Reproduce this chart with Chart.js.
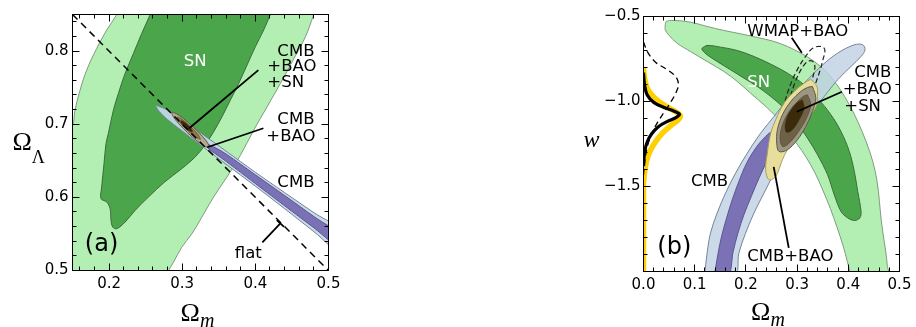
<!DOCTYPE html>
<html>
<head>
<meta charset="utf-8">
<script src="https://cdn.jsdelivr.net/npm/chart.js@4.4.1/dist/chart.umd.min.js"></script>
<style>
  html, body { margin: 0; padding: 0; background: #fff; }
  #wrap { position: relative; width: 916px; height: 327px; overflow: hidden; background: #fff; }
  canvas { position: absolute; top: 0; }
  #panelA { left: 0; }
  #panelB { left: 570px; }
</style>
</head>
<body>
<div id="wrap">
  <canvas id="panelA" width="340" height="327"></canvas>
  <canvas id="panelB" width="346" height="327"></canvas>
</div>
<script>
// ---------- Panel (a): Omega_m vs Omega_Lambda ----------
const ticksXA = [0.2, 0.3, 0.4, 0.5];
const ticksYA = [0.5, 0.6, 0.7, 0.8];

// SN 95% region
const snOuterA = [
  {x:0.2145,y:0.86},{x:0.2105,y:0.85},{x:0.1968,y:0.8288},{x:0.1831,y:0.8037},{x:0.1694,y:0.774},
  {x:0.1603,y:0.7466},{x:0.1534,y:0.7192},{x:0.15,y:0.6986},{x:0.14,y:0.692},{x:0.14,y:0.49},
  {x:0.2775,y:0.49},{x:0.2813,y:0.5},{x:0.2881,y:0.5114},{x:0.2995,y:0.532},{x:0.3132,y:0.5502},
  {x:0.3269,y:0.5731},{x:0.3429,y:0.6005},{x:0.3612,y:0.6279},{x:0.3795,y:0.6575},{x:0.3977,y:0.6918},
  {x:0.416,y:0.7237},{x:0.4342,y:0.7557},{x:0.4516,y:0.7877},{x:0.4685,y:0.8196},{x:0.4799,y:0.85},
  {x:0.484,y:0.86},{x:0.2145,y:0.86}
];
// SN 68% region
const snInnerA = [
  {x:0.2600,y:0.86},{x:0.2562,y:0.85},{x:0.2447,y:0.8242},{x:0.2333,y:0.7968},{x:0.2219,y:0.7694},
  {x:0.2127,y:0.742},{x:0.2059,y:0.7192},{x:0.199,y:0.6872},{x:0.1958,y:0.6735},{x:0.1931,y:0.6461},
  {x:0.1899,y:0.6142},{x:0.189,y:0.5982},{x:0.1968,y:0.5936},{x:0.2014,y:0.5845},{x:0.2027,y:0.5685},
  {x:0.205,y:0.5594},{x:0.2105,y:0.5571},{x:0.2219,y:0.5662},{x:0.2356,y:0.5822},{x:0.2539,y:0.6005},
  {x:0.2760,y:0.621},{x:0.2995,y:0.6393},{x:0.3178,y:0.6553},{x:0.3310,y:0.6712},{x:0.3429,y:0.6895},
  {x:0.3543,y:0.71},{x:0.3658,y:0.7329},{x:0.3772,y:0.7557},{x:0.3886,y:0.7808},{x:0.4,y:0.8059},
  {x:0.4114,y:0.8288},{x:0.4205,y:0.85},{x:0.4245,y:0.86},{x:0.2600,y:0.86}
];
// CMB 95% region
const cmbOuterA = [
  {x:0.263,y:0.7262},{x:0.28,y:0.7193},{x:0.30,y:0.7057},{x:0.33,y:0.6847},{x:0.36,y:0.6632},
  {x:0.40,y:0.6343},{x:0.44,y:0.6065},{x:0.48,y:0.5791},{x:0.52,y:0.5517},{x:0.52,y:0.5217},
  {x:0.48,y:0.5531},{x:0.44,y:0.5845},{x:0.40,y:0.6153},{x:0.36,y:0.6452},{x:0.33,y:0.6677},
  {x:0.30,y:0.6907},{x:0.28,y:0.7063},{x:0.268,y:0.7180},{x:0.263,y:0.7262}
];
// CMB 68% region
const cmbInnerA = [
  {x:0.334,y:0.6728},{x:0.345,y:0.668},{x:0.36,y:0.6592},{x:0.40,y:0.6308},{x:0.44,y:0.6025},
  {x:0.48,y:0.5738},{x:0.52,y:0.5452},{x:0.52,y:0.5282},{x:0.48,y:0.5584},{x:0.44,y:0.5885},
  {x:0.40,y:0.6188},{x:0.36,y:0.6492},{x:0.345,y:0.66},{x:0.336,y:0.6665},{x:0.334,y:0.6728}
];
// CMB+BAO 95% and 68%, CMB+BAO+SN
const cmbBaoOuterA = [
  {x:0.337,y:0.668},{x:0.3355,y:0.6732},{x:0.3275,y:0.6835},{x:0.3153,y:0.696},{x:0.302,y:0.7075},
  {x:0.2913,y:0.7148},{x:0.286,y:0.716},{x:0.2875,y:0.7108},{x:0.2955,y:0.7005},{x:0.3077,y:0.688},
  {x:0.321,y:0.6765},{x:0.3317,y:0.6692},{x:0.337,y:0.668}
];
const cmbBaoInnerA = [
  {x:0.325,y:0.6794},{x:0.322,y:0.6857},{x:0.3114,y:0.697},{x:0.2994,y:0.707},{x:0.293,y:0.7096},
  {x:0.296,y:0.7034},{x:0.3066,y:0.692},{x:0.3186,y:0.682},{x:0.325,y:0.6794}
];
const allCoreA = [
  {x:0.314,y:0.6895},{x:0.3129,y:0.693},{x:0.3077,y:0.6988},{x:0.3016,y:0.7036},{x:0.298,y:0.7045},
  {x:0.2991,y:0.701},{x:0.3043,y:0.6952},{x:0.3105,y:0.6904},{x:0.314,y:0.6895}
];
// flat universe: Omega_Lambda = 1 - Omega_m
const flatLineA = [{x:0.15,y:0.85},{x:0.5,y:0.5}];

// ---------- Panel (b): Omega_m vs w ----------
const ticksXB = [0.0, 0.1, 0.2, 0.3, 0.4, 0.5];
const ticksYB = [-1.5, -1.0, -0.5];

const snOuterB = [
  {x:0.0425,y:-0.5488},{x:0.0445,y:-0.5292},{x:0.0589,y:-0.5233},{x:0.0916,y:-0.5331},{x:0.1242,y:-0.5586},
  {x:0.1569,y:-0.5821},{x:0.1896,y:-0.6018},{x:0.2223,y:-0.6233},{x:0.2549,y:-0.6469},{x:0.2811,y:-0.6763},
  {x:0.3072,y:-0.7155},{x:0.3334,y:-0.7645},{x:0.3595,y:-0.8331},{x:0.3824,y:-0.9214},{x:0.402,y:-1.0194},
  {x:0.4184,y:-1.1174},{x:0.4347,y:-1.2351},{x:0.4478,y:-1.3527},{x:0.4563,y:-1.4704},{x:0.4608,y:-1.588},
  {x:0.464,y:-1.69},{x:0.468,y:-1.78},{x:0.473,y:-1.88},{x:0.476,y:-1.96},{x:0.477,y:-2.03},
  {x:0.404,y:-2.03},{x:0.403,y:-2.0},{x:0.398,y:-1.94},{x:0.39,y:-1.85},{x:0.378,y:-1.74},
  {x:0.365,y:-1.63},{x:0.35,y:-1.52},{x:0.335,y:-1.42},{x:0.318,y:-1.33},{x:0.30,y:-1.25},
  {x:0.281,y:-1.1763},{x:0.2615,y:-1.0978},{x:0.2353,y:-1.0194},{x:0.209,y:-0.9508},{x:0.1831,y:-0.8821},
  {x:0.1569,y:-0.8233},{x:0.1242,y:-0.7645},{x:0.0916,y:-0.7057},{x:0.0654,y:-0.6567},{x:0.049,y:-0.6076},
  {x:0.0425,y:-0.5782},{x:0.0425,y:-0.5488}
];
const snInnerB = [
  {x:0.1144,y:-0.6861},{x:0.1242,y:-0.6704},{x:0.1504,y:-0.6802},{x:0.1831,y:-0.6998},{x:0.2157,y:-0.7351},
  {x:0.2484,y:-0.7802},{x:0.2811,y:-0.8331},{x:0.3138,y:-0.9018},{x:0.3399,y:-0.9802},{x:0.3661,y:-1.0782},
  {x:0.3857,y:-1.1763},{x:0.402,y:-1.2939},{x:0.4118,y:-1.4116},{x:0.4184,y:-1.5292},{x:0.4249,y:-1.6469},
  {x:0.4225,y:-1.685},{x:0.412,y:-1.70},{x:0.399,y:-1.685},{x:0.3857,y:-1.6469},{x:0.3726,y:-1.5488},
  {x:0.3595,y:-1.4312},{x:0.3399,y:-1.3135},{x:0.3203,y:-1.2155},{x:0.2974,y:-1.1174},{x:0.2746,y:-1.039},
  {x:0.2484,y:-0.9704},{x:0.2223,y:-0.9116},{x:0.1961,y:-0.8625},{x:0.17,y:-0.8135},{x:0.1438,y:-0.7645},
  {x:0.1242,y:-0.7253},{x:0.1144,y:-0.6959},{x:0.1144,y:-0.6861}
];
const cmbOuterB = [
  {x:0.119,y:-2.03},{x:0.1242,y:-1.892},{x:0.1308,y:-1.7743},{x:0.1438,y:-1.6566},{x:0.1602,y:-1.539},
  {x:0.1798,y:-1.4214},{x:0.2027,y:-1.3037},{x:0.2288,y:-1.1861},{x:0.2549,y:-1.088},{x:0.2811,y:-0.99},
  {x:0.3138,y:-0.892},{x:0.3465,y:-0.7939},{x:0.3791,y:-0.7155},{x:0.4118,y:-0.6665},{x:0.4282,y:-0.6665},
  {x:0.4327,y:-0.6959},{x:0.4249,y:-0.7351},{x:0.4053,y:-0.7939},{x:0.3791,y:-0.8723},{x:0.353,y:-0.9704},
  {x:0.3268,y:-1.0684},{x:0.3007,y:-1.1861},{x:0.2746,y:-1.3037},{x:0.2549,y:-1.4214},{x:0.2353,y:-1.539},
  {x:0.2157,y:-1.6566},{x:0.1994,y:-1.7743},{x:0.1863,y:-1.892},{x:0.178,y:-2.03},{x:0.119,y:-2.03}
];
const cmbInnerB = [
  {x:0.138,y:-2.03},{x:0.1452,y:-1.9018},{x:0.1517,y:-1.8037},{x:0.1622,y:-1.6861},{x:0.1733,y:-1.5782},
  {x:0.1863,y:-1.4704},{x:0.2014,y:-1.3625},{x:0.219,y:-1.2743},{x:0.2353,y:-1.2155},{x:0.2497,y:-1.1802},
  {x:0.2563,y:-1.1998},{x:0.2517,y:-1.2743},{x:0.2406,y:-1.3527},{x:0.2256,y:-1.4508},{x:0.2105,y:-1.5586},
  {x:0.1961,y:-1.6665},{x:0.1844,y:-1.7743},{x:0.1752,y:-1.8821},{x:0.165,y:-2.03},{x:0.138,y:-2.03}
];
const wmapBaoOuterB = [
  {x:0.268,y:-1.137},{x:0.2733,y:-1.039},{x:0.2811,y:-0.9508},{x:0.2909,y:-0.8723},{x:0.302,y:-0.8037},
  {x:0.3151,y:-0.741},{x:0.3282,y:-0.692},{x:0.3399,y:-0.6763},{x:0.3517,y:-0.6822},{x:0.3543,y:-0.7057},
  {x:0.3504,y:-0.7547},{x:0.3452,y:-0.8135},{x:0.3386,y:-0.8723},{x:0.3282,y:-0.9606},{x:0.3138,y:-1.0586},
  {x:0.2942,y:-1.1468},{x:0.2778,y:-1.1861},{x:0.268,y:-1.137}
];
const wmapBaoInnerB = [
  {x:0.2811,y:-1.0586},{x:0.2864,y:-0.9802},{x:0.2942,y:-0.9018},{x:0.304,y:-0.8331},{x:0.3138,y:-0.7841},
  {x:0.3236,y:-0.7606},{x:0.3321,y:-0.7684},{x:0.3347,y:-0.8037},{x:0.3301,y:-0.8625},{x:0.3236,y:-0.9312},
  {x:0.3138,y:-1.0096},{x:0.3007,y:-1.0782},{x:0.2811,y:-1.0586}
];
const cmbBaoB = [
  {x:0.3269,y:-0.8686},{x:0.3386,y:-0.9116},{x:0.3399,y:-0.9508},{x:0.3367,y:-1.0292},{x:0.3203,y:-1.1076},
  {x:0.3007,y:-1.2057},{x:0.281,y:-1.2841},{x:0.2713,y:-1.3429},{x:0.2582,y:-1.441},{x:0.2452,y:-1.4606},
  {x:0.2386,y:-1.4018},{x:0.2419,y:-1.3037},{x:0.2484,y:-1.1861},{x:0.2582,y:-1.1076},{x:0.2746,y:-1.0096},
  {x:0.2942,y:-0.941},{x:0.3138,y:-0.892},{x:0.3269,y:-0.8686}
];
const allOuterB = [
  {x:0.3301,y:-0.9116},{x:0.3366,y:-0.9802},{x:0.3301,y:-1.0586},{x:0.317,y:-1.1468},{x:0.3007,y:-1.2253},
  {x:0.281,y:-1.2841},{x:0.2648,y:-1.2939},{x:0.2602,y:-1.2449},{x:0.2615,y:-1.1665},{x:0.2713,y:-1.0782},
  {x:0.2876,y:-1.0},{x:0.3072,y:-0.941},{x:0.3203,y:-0.9174},{x:0.3301,y:-0.9116}
];
const allMidB = [
  {x:0.3203,y:-0.9606},{x:0.3268,y:-1.0194},{x:0.317,y:-1.1076},{x:0.3007,y:-1.1861},{x:0.281,y:-1.2547},
  {x:0.2713,y:-1.2645},{x:0.2667,y:-1.2155},{x:0.2713,y:-1.137},{x:0.2844,y:-1.0586},{x:0.3007,y:-1.0},
  {x:0.3138,y:-0.9666},{x:0.3203,y:-0.9606}
];
const allCoreB = [
  {x:0.3105,y:-0.99},{x:0.3138,y:-1.039},{x:0.304,y:-1.1076},{x:0.2909,y:-1.1665},{x:0.2798,y:-1.1821},
  {x:0.2765,y:-1.1468},{x:0.281,y:-1.088},{x:0.2909,y:-1.039},{x:0.3007,y:-1.0056},{x:0.3105,y:-0.99}
];
// marginal likelihoods of w (scaled onto the Omega_m axis)
const likeAllB = [
  {x:0,y:-0.80},{x:0.002,y:-0.86},{x:0.007,y:-0.92},{x:0.016,y:-0.96},{x:0.03,y:-1.0},{x:0.048,y:-1.035},
  {x:0.064,y:-1.062},{x:0.072,y:-1.085},{x:0.067,y:-1.11},{x:0.054,y:-1.14},{x:0.039,y:-1.18},{x:0.025,y:-1.23},
  {x:0.013,y:-1.29},{x:0.006,y:-1.35},{x:0.002,y:-1.42},{x:0,y:-1.5},{x:0,y:-2.0}
];
const likeBlackB = [
  {x:0,y:-0.83},{x:0.002,y:-0.9},{x:0.007,y:-0.96},{x:0.02,y:-1.005},{x:0.04,y:-1.035},{x:0.06,y:-1.057},
  {x:0.0705,y:-1.075},{x:0.064,y:-1.093},{x:0.046,y:-1.118},{x:0.029,y:-1.148},{x:0.016,y:-1.19},
  {x:0.007,y:-1.24},{x:0.002,y:-1.3},{x:0,y:-1.38}
];
const likeWmapB = [
  {x:0,y:-0.65},{x:0.008,y:-0.71},{x:0.024,y:-0.77},{x:0.045,y:-0.81},{x:0.062,y:-0.85},{x:0.068,y:-0.89},
  {x:0.066,y:-0.93},{x:0.055,y:-0.995},{x:0.042,y:-1.055},{x:0.028,y:-1.12},{x:0.016,y:-1.19},
  {x:0.008,y:-1.26},{x:0.003,y:-1.34},{x:0,y:-1.43}
];

// ---------- helpers ----------
const FONT = '"DejaVu Sans", "Bitstream Vera Sans", sans-serif';
const SERIF = '"Liberation Serif", "DejaVu Serif", serif';
const fmt = v => (v < 0 ? '\u2212' + Math.abs(v).toFixed(1) : v.toFixed(1));

function region(data, fill, border, order, width) {
  return { data, showLine: true, fill: 'shape', backgroundColor: fill, borderColor: border,
           borderWidth: width === undefined ? 1 : width, pointRadius: 0, tension: 0.35, order, clip: 0 };
}
function curve(data, color, width, order, dash) {
  return { data, showLine: true, fill: false, borderColor: color, borderWidth: width, pointRadius: 0,
           tension: 0.35, order, clip: 0, borderDash: dash || [], borderCapStyle: 'butt' };
}

// frame and inward tick marks on all four sides
const frameTicks = {
  id: 'frameTicks',
  afterDatasetsDraw(chart, args, o) {
    const { ctx, chartArea: a } = chart;
    const xs = chart.scales.x, ys = chart.scales.y;
    const near = (v, s) => Math.abs(v / s - Math.round(v / s)) < 1e-6;
    ctx.save();
    ctx.strokeStyle = '#000';
    ctx.lineWidth = 1;
    ctx.beginPath();
    const nx = Math.round((xs.max - xs.min) / o.xMinor);
    for (let i = 0; i <= nx + 1; i++) {
      const v = Math.ceil(xs.min / o.xMinor - 1e-6) * o.xMinor + i * o.xMinor;
      if (v > xs.max + 1e-9) break;
      const p = Math.round(xs.getPixelForValue(v) - 0.5) + 0.5;
      const len = near(v, o.xMajor) ? 7 : 4;
      ctx.moveTo(p, a.bottom); ctx.lineTo(p, a.bottom - len);
      ctx.moveTo(p, a.top); ctx.lineTo(p, a.top + len);
    }
    const ny = Math.round((ys.max - ys.min) / o.yMinor);
    for (let i = 0; i <= ny + 1; i++) {
      const v = Math.ceil(ys.min / o.yMinor - 1e-6) * o.yMinor + i * o.yMinor;
      if (v > ys.max + 1e-9) break;
      const p = Math.round(ys.getPixelForValue(v) - 0.5) + 0.5;
      const len = near(v, o.yMajor) ? 7 : 4;
      ctx.moveTo(a.left, p); ctx.lineTo(a.left + len, p);
      ctx.moveTo(a.right, p); ctx.lineTo(a.right - len, p);
    }
    ctx.stroke();
    ctx.strokeRect(a.left, a.top, a.right - a.left, a.bottom - a.top);
    ctx.restore();
  }
};

// text labels, pointer lines and axis titles
const notes = {
  id: 'notes',
  afterDatasetsDraw(chart, args, o) {
    const { ctx, chartArea: a } = chart;
    const xs = chart.scales.x, ys = chart.scales.y;
    const px = v => xs.getPixelForValue(v), py = v => ys.getPixelForValue(v);
    ctx.save();
    ctx.strokeStyle = '#000';
    ctx.lineWidth = 1.8;
    for (const s of o.pointers) {
      ctx.beginPath();
      ctx.moveTo(px(s[0]), py(s[1]));
      ctx.lineTo(px(s[2]), py(s[3]));
      ctx.stroke();
    }
    for (const t of o.texts) {
      ctx.font = (t.size || 16.5) + 'px ' + FONT;
      ctx.fillStyle = t.color || '#000';
      ctx.textAlign = t.align || 'left';
      ctx.textBaseline = 'middle';
      ctx.fillText(t.text, px(t.x), py(t.y));
    }
    // axis titles: a main symbol with an optional subscript
    ctx.fillStyle = '#000';
    ctx.textAlign = 'left';
    ctx.textBaseline = 'alphabetic';
    for (const t of o.titles) {
      ctx.font = t.font;
      const w1 = ctx.measureText(t.main).width;
      let w2 = 0;
      if (t.sub) { ctx.font = t.subFont; w2 = ctx.measureText(t.sub).width; }
      const x0 = t.anchor === 'x' ? (a.left + a.right) / 2 + t.dx - (w1 + w2) / 2 : a.left + t.dx;
      const y0 = t.anchor === 'x' ? a.bottom + t.dy : (a.top + a.bottom) / 2 + t.dy;
      ctx.font = t.font;
      ctx.fillText(t.main, x0, y0);
      if (t.sub) { ctx.font = t.subFont; ctx.fillText(t.sub, x0 + w1 + (t.subGap || 0), y0 + t.subDy); }
    }
    ctx.restore();
  }
};

// fixed axis box: no extra room reserved for the end labels
function fixBox(s, size) {
  if (s.isHorizontal()) s.height = size; else s.width = size;
  s.paddingLeft = 0; s.paddingRight = 0; s.paddingTop = 0; s.paddingBottom = 0;
}

function axis(min, max, labels, size, padding) {
  return {
    type: 'linear', min, max,
    afterBuildTicks: s => { s.ticks = labels.map(v => ({ value: v })); },
    afterFit: s => fixBox(s, size),
    grid: { display: false, drawTicks: false },
    border: { display: false },
    ticks: { autoSkip: false, maxRotation: 0, padding, color: '#000',
             font: { family: FONT, size: 15 }, callback: v => fmt(v) }
  };
}

const common = {
  responsive: false,
  animation: false,
  events: [],
  plugins: { legend: { display: false }, tooltip: { enabled: false } }
};

// ---------- chart (a) ----------
new Chart(document.getElementById('panelA'), {
  type: 'line',
  data: {
    datasets: [
      region(snOuterA, '#b3efb3', '#7f9b7f', 10),
      region(snInnerA, '#4ba64b', '#3d6b3d', 9),
      region(cmbOuterA, 'rgba(196,214,230,0.93)', '#74849c', 8),
      region(cmbInnerA, '#7b72b6', '#5a5590', 7),
      region(cmbBaoOuterA, '#b2aa8e', '#5e5840', 6),
      region(cmbBaoInnerA, '#8a7849', '#5c4f2c', 5, 0.6),
      region(allCoreA, '#3a2a0c', '#3a2a0c', 4, 0.5),
      curve(flatLineA, '#000', 1.5, 1, [7, 5])
    ]
  },
  options: Object.assign({}, common, {
    layout: { padding: { left: 0, right: 11.5, top: 14.5, bottom: 0 } },
    scales: {
      x: axis(0.15, 0.5, ticksXA, 56.5, 5),
      y: axis(0.5, 0.85, ticksYA, 72.5, 4)
    },
    plugins: Object.assign({}, common.plugins, {
      frameTicks: { xMinor: 0.02, xMajor: 0.1, yMinor: 0.02, yMajor: 0.1 },
      notes: {
        pointers: [
          [0.4041, 0.774, 0.3096, 0.6945],
          [0.4110, 0.6945, 0.3342, 0.6685],
          [0.4096, 0.5384, 0.4342, 0.5644],
          [0.4293, 0.5690, 0.4392, 0.5597]
        ],
        texts: [
          { text: 'SN', x: 0.3178, y: 0.7849, align: 'center', color: '#fff' },
          { text: 'CMB', x: 0.4301, y: 0.7992 },
          { text: '+BAO', x: 0.4164, y: 0.7781 },
          { text: '+SN', x: 0.4164, y: 0.7562 },
          { text: 'CMB', x: 0.4301, y: 0.7068 },
          { text: '+BAO', x: 0.4150, y: 0.6829 },
          { text: 'CMB', x: 0.4301, y: 0.6205 },
          { text: 'flat', x: 0.3904, y: 0.5233, align: 'center' },
          { text: '(a)', x: 0.1897, y: 0.5356, align: 'center', size: 24 }
        ],
        titles: [
          { anchor: 'x', main: '\u03A9', sub: 'm', font: '26px ' + SERIF, subFont: 'italic 20px ' + SERIF,
            dx: -3, dy: 50, subDy: 6, subGap: 0 },
          { anchor: 'y', main: '\u03A9', sub: '\u039B', font: '26px ' + SERIF, subFont: '18px ' + SERIF,
            dx: -60, dy: 7.5, subDy: 13, subGap: 0 }
        ]
      }
    })
  }),
  plugins: [notes, frameTicks]
});

// ---------- chart (b) ----------
new Chart(document.getElementById('panelB'), {
  type: 'line',
  data: {
    datasets: [
      region(snOuterB, '#b3efb3', '#7f9b7f', 20),
      region(snInnerB, '#4ba64b', '#3d6b3d', 19),
      region(cmbOuterB, 'rgba(190,208,226,0.80)', '#74849c', 18),
      region(cmbInnerB, '#7b72b6', '#5a5590', 17),
      curve(wmapBaoOuterB, '#222', 1.2, 16, [5, 3]),
      curve(wmapBaoInnerB, '#222', 1.2, 15, [5, 3]),
      region(cmbBaoB, '#e8de9c', '#a89e5c', 14),
      region(allOuterB, '#9d9682', '#5d5846', 13),
      region(allMidB, '#6e6246', '#4d4430', 12, 0.6),
      region(allCoreB, '#3a2c0a', '#3a2c0a', 11, 0.5),
      curve(likeAllB, '#ffd000', 5.5, 3),
      curve(likeBlackB, '#000', 3.2, 2),
      curve(likeWmapB, '#000', 1.3, 1, [6, 4])
    ]
  },
  options: Object.assign({}, common, {
    layout: { padding: { left: 0, right: 16.5, top: 16.5, bottom: 0 } },
    scales: {
      x: axis(0.0, 0.5, ticksXB, 55.5, 5),
      y: axis(-2.0, -0.5, ticksYB, 73.5, 3)
    },
    plugins: Object.assign({}, common.plugins, {
      frameTicks: { xMinor: 0.02, xMajor: 0.1, yMinor: 0.1, yMajor: 0.5 },
      notes: {
        pointers: [
          [0.2896, -0.6253, 0.3092, -0.7135],
          [0.3876, -0.9429, 0.2994, -1.0606],
          [0.2543, -1.3841, 0.2837, -1.8606]
        ],
        texts: [
          { text: 'WMAP+BAO', x: 0.3014, y: -0.587, align: 'center' },
          { text: 'SN', x: 0.2249, y: -0.887, align: 'center', color: '#fff' },
          { text: 'CMB', x: 0.4118, y: -0.8312 },
          { text: '+BAO', x: 0.3890, y: -0.9312 },
          { text: '+SN', x: 0.3922, y: -1.0294 },
          { text: 'CMB', x: 0.1288, y: -1.4724, align: 'center' },
          { text: 'CMB+BAO', x: 0.2867, y: -1.9135, align: 'center' },
          { text: '(b)', x: 0.0602, y: -1.8606, align: 'center', size: 24 }
        ],
        titles: [
          { anchor: 'x', main: '\u03A9', sub: 'm', font: '26px ' + SERIF, subFont: 'italic 20px ' + SERIF,
            dx: -3.5, dy: 48.5, subDy: 6, subGap: 0 },
          { anchor: 'y', main: 'w', font: 'italic 24px ' + SERIF, dx: -60, dy: 2.5 }
        ]
      }
    })
  }),
  plugins: [notes, frameTicks]
});
</script>
</body>
</html>
